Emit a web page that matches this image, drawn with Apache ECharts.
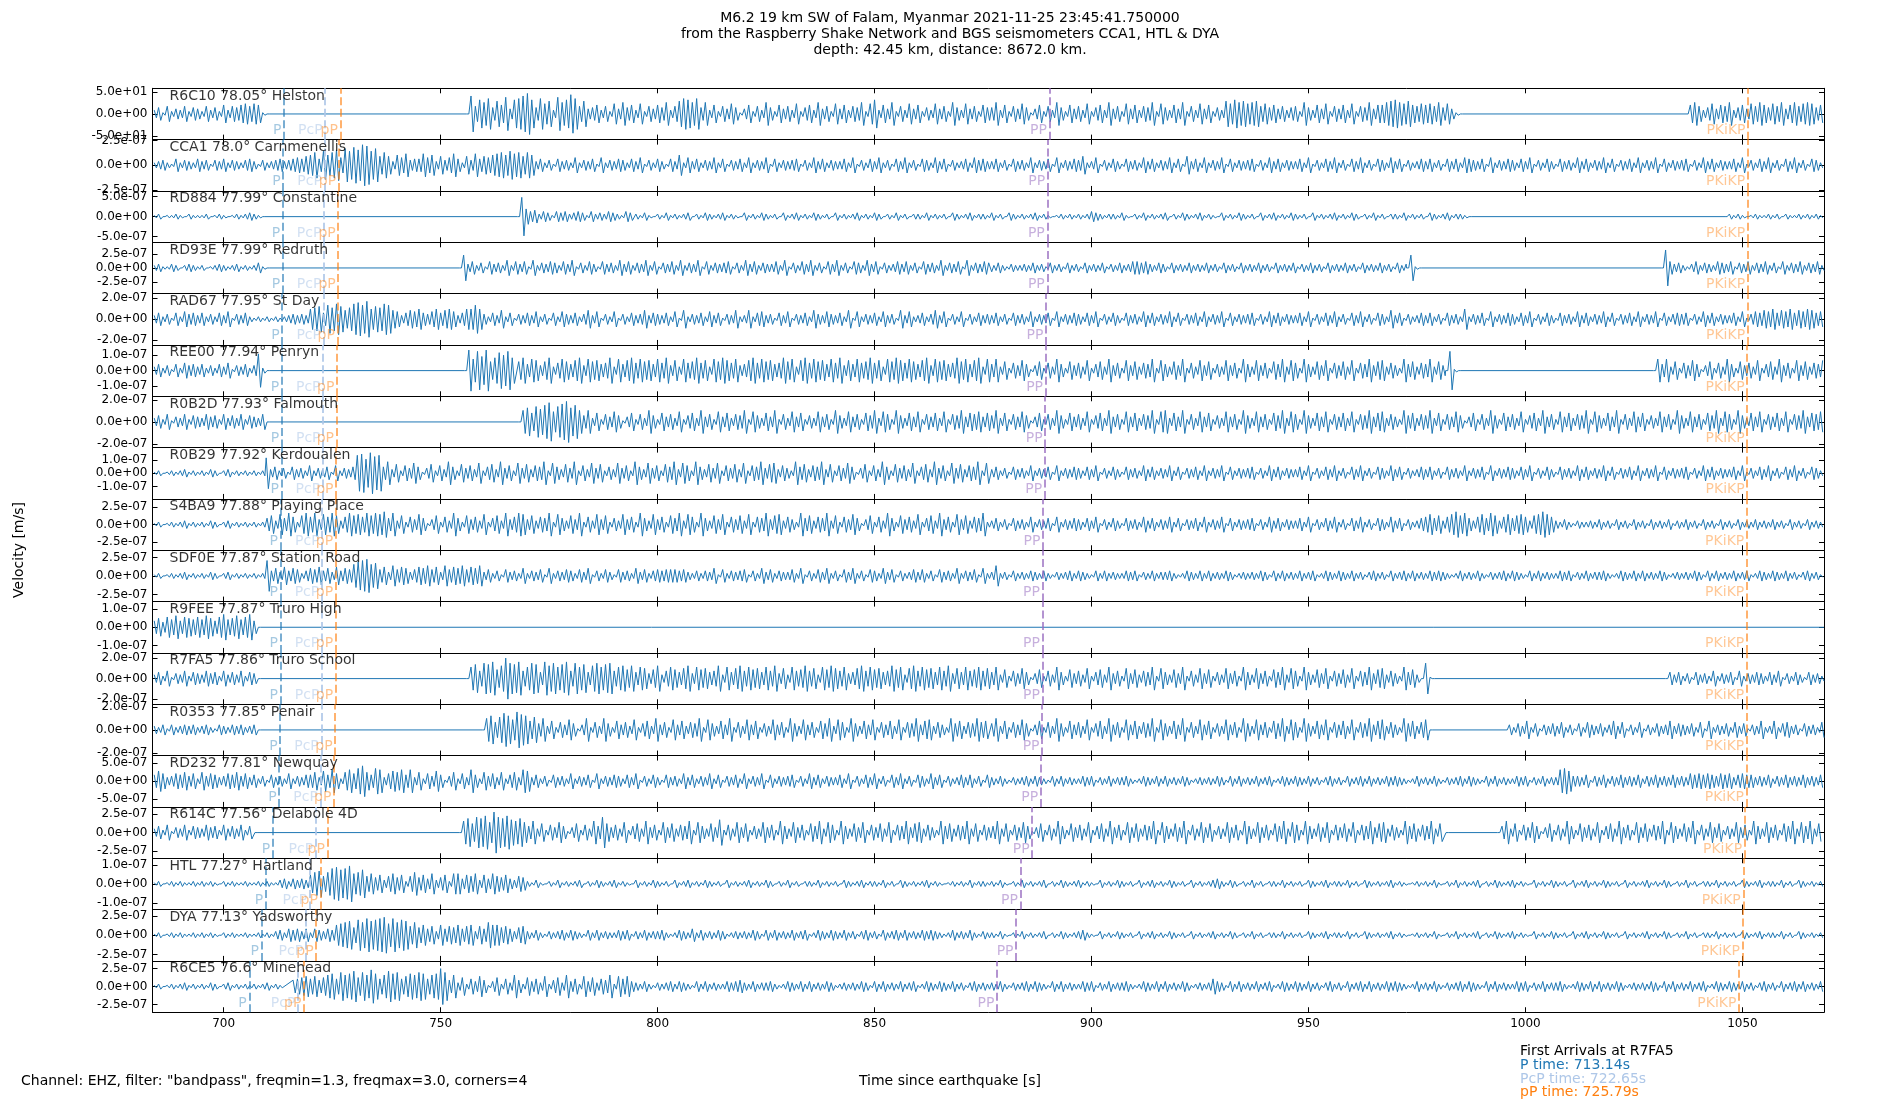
<!DOCTYPE html>
<html><head><meta charset="utf-8">
<script src="https://cdn.jsdelivr.net/npm/echarts@6/dist/echarts.min.js"></script>
<style>html,body{margin:0;padding:0;background:#fff}#chart{width:1900px;height:1100px}</style>
</head><body><div id="chart"></div>
<script>
// ---------------- DATA ----------------
const xMin = 683.6, xMax = 1068.8;
const xTicks = [700, 750, 800, 850, 900, 950, 1000, 1050];
const stations = ["R6C10 78.05° Helston", "CCA1 78.0° Carnmenellis", "RD884 77.99° Constantine", "RD93E 77.99° Redruth",
  "RAD67 77.95° St Day", "REE00 77.94° Penryn", "R0B2D 77.93° Falmouth", "R0B29 77.92° Kerdoualen",
  "S4BA9 77.88° Playing Place", "SDF0E 77.87° Station Road", "R9FEE 77.87° Truro High", "R7FA5 77.86° Truro School",
  "R0353 77.85° Penair", "RD232 77.81° Newquay", "R614C 77.56° Delabole 4D", "HTL 77.27° Hartland",
  "DYA 77.13° Yadsworthy", "R6CE5 76.6° Minehead"];
const yTick = [50, 2.5e-7, 5e-7, 2.5e-7, 2e-7, 1e-7, 2e-7, 1e-7, 2.5e-7, 2.5e-7, 1e-7, 2e-7, 2e-7, 5e-7, 2.5e-7, 1e-7, 2.5e-7, 2.5e-7];
const yMax = [58.8, 2.58e-7, 6.41e-7, 4.55e-7, 2.44e-7, 1.67e-7, 2.35e-7, 1.92e-7, 3.68e-7, 3.47e-7, 1.39e-7, 2.5e-7, 2.22e-7, 7.14e-7, 3.47e-7, 1.35e-7, 3.33e-7, 3.57e-7];
const tP     = [713.9, 713.7, 713.6, 713.6, 713.5, 713.4, 713.4, 713.3, 713.1, 713.1, 713.1, 713.1, 713.0, 712.8, 711.3, 709.7, 708.7, 705.9];
const tPcP   = [723.4, 723.2, 723.1, 723.1, 723.0, 722.9, 722.9, 722.8, 722.7, 722.6, 722.6, 722.65, 722.5, 722.3, 721.2, 719.8, 718.9, 717.1];
const tpP    = [726.9, 726.5, 726.4, 726.4, 726.2, 726.1, 726.0, 725.9, 725.8, 725.8, 725.8, 725.8, 725.7, 725.4, 723.9, 722.3, 721.3, 718.5];
const tPP    = [890.3, 889.9, 889.8, 889.8, 889.5, 889.4, 889.3, 889.2, 888.8, 888.7, 888.7, 888.7, 888.6, 888.3, 886.3, 883.6, 882.6, 878.2];
const tPKiKP = [1051.3, 1051.2, 1051.2, 1051.2, 1051.2, 1051.1, 1051.1, 1051.1, 1051.0, 1051.0, 1051.0, 1051.0, 1051.0, 1050.9, 1050.5, 1050.2, 1050.0, 1049.2];

// trace segments: [start time (s), peak amplitude for each following second, base-36 code, 20 = axis limit]
const trR6C10 = [[684, '3516243625'+'4263527365'+'786871'], [710, '0'],
  [756, '0e6b9c5a7d'+'4bcegb5c8a'+'3d9bfc6a4'], [785, '5736284957'+'3826475936'], [805, 'acb9c'],
  [810, '5937264851'+'4726395274'+'6382573946'+'2847365928'+'b374926384'+'7253846295'+'3846275'],
  [877, '5937264851'+'4726395274'+'6382573946'+'2847365928'+'5374926384'+'7253a8b9a8'+'9a68574635'+'6295374826'+'4738265947'+'79ab98a768'+'78695841'],
  [985, '0'], [1037, '0796358476'+'9357486975'+'8694796898'+'5768']];
const trCCA1 = [[684, '2342152432'+'5341435243'+'2453142345'+'3'], [715, '45657'], [720, '8a5b8ac6dbecgfbd7a'],
  [738, '7386945596'+'8374695274'+'95768'], [763, '9a8b9a7a8'],
  [772, '3524153426'+'2435162435'+'4253614253'+'1538263524'+'3625143526'+'2436152434'+'5142635243'+'3526142536'+'2415362415'+'4263514235'+'26453'],
  [877, '3524153426'+'2435162435'+'4723614253'+'1534263524'+'3625173526'+'2436152434'+'5142635243'+'3526142536'+'2415362415'+'4263514235'+'3524153526'+'5435162435'+'4253614253'+'1534263524'+'3625143526'+'2436152434'+'5142635243'+'3526142536'+'2415362415'+'4253']];
const trRD884 = [[684, '1201121021'+'1120121012'+'1'+'232'+'1'], [709, '0'],
  [767.7, '0f'+'6452431434'+'2343142324'+'32143'],
  [795, '2131021312'+'1230213212'+'3121031213'+'2120312312'+'1321203121'+'2312132021'+'3120221312'+'1203212312'+'2131203212'+'1231210121'+'2121243212'+'2131021312'+'1230213212'+'3121031213'+'2120312312'+'1321203121'+'2312132021'+'3120221312'+'1203212312'+'21'],
  [987, '0'], [1046, '0'+'2121012112'+'1202112121'+'212']];
const trRD93E = [[684, '2311320232'+'1201232123'+'121'+'24'+'1'], [710, '0'],
  [754.3, '0a'+'3524153426'+'2535162435'+'4253614253'+'1534263524'+'3625143526'+'2436152434'+'5142635243'+'3526142536'+'2415362415'+'4263514235'+'3524153426'+'2435162435'+'4'],
  [876.5, '3242132232'+'4231423142'+'3142324132'+'4235545324'+'3142324232'+'4231423142'+'3242314232'+'4132423142'+'3242314232'+'4231423'],
  [972.6, '0a1'], [975.6, '0'], [1031.3, '0e'+'5342135243'+'2543514352'+'4352415243'+'5243524']];
const trRAD67 = [[684, '3524152645'+'3524253614'+'352'], [707, '12121212'], [715, '34343'], [720, '89a5b9ca79'+'cdbe8a9cb7'],
  [740, '6357685468'+'5786358'], [757, '8b8'],
  [760, '4253725143'+'5362415264'+'3524736142'+'6142534735'+'4352617243'+'5263514372'+'3725634153'+'6143527436'+'4352716243'+'5263417362'+'3524736142'+'6142534'],
  [877, '3524153426'+'2435162435'+'4253614253'+'1534263524'+'3625143526'+'2436152434'+'5142635243'+'3526142536'+'2415362415'+'4273514235'+'3524153428'+'2435162435'+'4253614253'+'1534263524'+'3625143526'+'2436152454'+'5142635243'+'3526146576'+'8576857687'+'5678']];
const trREE00 = [[684, '3524152645'+'3524253614'+'3524'], [708, 'd2'], [710, '0'], [755.5, '0g9fbg7aecfa'],
  [768, '7a59847a36'+'9758a49785'+'6a3958a697'+'8596a48396'+'7a68397a86'+'9458a69785'+'6a7938a697'+'8596a48596'+'7a68397a86'+'9758a49785'+'6a7958a39'],
  [877, '5937264851'+'4726395274'+'6382573946'+'2847365928'+'5374926384'+'7253846295'+'3846275938'+'6295374826'+'4738265947'+'8364295736'+'59374'],
  [981.6, '0f1'], [984.6, '0'], [1029.5, '09'+'5937264851'+'4726395274'+'6382573946'+'28473658']];
const trR0B2D = [[684, '3526143625'+'4364526353'+'625436'], [710, '0'], [768, '0'+'9b7cadf8ce'+'gbd9'],
  [783, '5937264851'+'4726395274'+'6382573946'+'2847365928'+'5374926384'+'7253846295'+'3846275938'+'6295374826'+'4738265947'+'6847'],
  [877, '5937264851'+'4726395274'+'6382573946'+'2847365928'+'9374926384'+'7253846295'+'3846275938'+'6295374826'+'4738265947'+'8364295736'+'5937264851'+'4726395274'+'6382573946'+'2847365928'+'5374926384'+'7253846295'+'3846275938'+'6295374826'+'4738265947'+'6857']];
const trR0B29 = [[684, '1201212312'+'1213202312'+'121212'], [709.8, 'c'+'3524153426'+'2435162435'], [730.8, 'efbgde'],
  [736.8, '5937264851'+'4726395274'+'6382573946'+'2847365928'+'5374926384'+'7253846295'+'3846275938'+'6295374826'+'4738265947'+'8364295736'+'5937264851'+'4726395274'+'6382573946'+'2847365928'],
  [877, '3524153426'+'2435162435'+'4253614253'+'1534263524'+'3625143526'+'2436152434'+'5142635243'+'3526142536'+'2415362415'+'4263514235'+'3524153426'+'2435162435'+'4253614253'+'1534263524'+'3625143526'+'2436152434'+'5142635243'+'3526142536'+'2415362415'+'4253']];
const trS4BA9 = [[684, '1201212312'+'1213202312'+'121212'], [710, '5738596279'+'6948697369'+'7869798a'],
  [738, '5937264851'+'4726395274'+'6382573946'+'9847365928'+'5374926384'+'7253846295'+'3846275938'+'6295374826'+'4738265947'+'8364295736'+'5937264851'+'4726395274'+'6382573946'+'284736592'],
  [877, '3524153426'+'2435162435'+'4253614253'+'1534263524'+'3625143526'+'2436152434'+'5142635243'+'3526142536'+'2415362415'+'4263514235'],
  [977, '6857368a79'+'5368597368'+'5786378a86'],
  [1007, '3242132232'+'4231423142'+'3142324132'+'4231423142'+'3142324232'+'4231423142'+'3242']];
const trSDF0E = [[684, '1201212312'+'1213202312'+'121212'], [710, 'c'+'4637465246'+'574637465'], [730, '9bcd9a'],
  [736, '5738576357'+'6857385768'+'5768'],
  [760, '3524153426'+'2435162435'+'4253614253'+'1534263524'+'5455545324'+'2436152434'+'5142635243'+'3526142536'+'2415362415'+'4263514235'+'3524153426'+'2435162'],
  [877, '3823142324'+'3242132342'+'4321424232'+'2434132423'+'3421243242'+'4232431232'+'3243142423'+'2423412432'+'4324231342'+'3142342423'+'2434321242'+'3242132342'+'4321424232'+'2434132423'+'3421243242'+'4232431232'+'3243142423'+'2423412432'+'4324231342'+'3142']];
const trR9FEE = [[684, '5748695876'+'869758a679'+'68a5'], [708, '0'], [1068.8, '0']];
const trR7FA5 = [[684, '3526143625'+'4364526353'+'6254'], [708, '0'],
  [756, '0'+'9b6cbd7agc'+'bd69cb5dac'+'9bd6c9b5ac'+'9bc69a'],
  [793, '7a59847a36'+'9758a49785'+'6a3958a697'+'8596a48396'+'7a68397a86'+'9458a69785'+'6a7938a697'+'8596a48596'+'7968'],
  [877, '5937264851'+'4726395274'+'6382573946'+'2847365928'+'5374926384'+'7253846295'+'3846275938'+'6295374826'+'4738265947'+'8364295736'],
  [976, '0c1'], [978.5, '0'], [1032.3, '05'+'3524153426'+'2435162435'+'4253614253'+'153426']];
const trR0353 = [[684, '3241423434'+'2342143243'+'4234'], [708, '0'], [759.6, '0'+'9b6adb8ecb'+'7a'],
  [772.6, '5937264851'+'4926395274'+'6382573946'+'2847365928'+'5374926384'+'7253846295'+'3846275938'+'6295374826'+'4738265947'+'8364295736'+'5967'],
  [877, '5937264851'+'4726395274'+'6382573946'+'2847365928'+'5374926384'+'7253846295'+'3846275938'+'6295374826'+'4738265947'+'8364295736'+'8'],
  [978, '0'], [995.3, '0'+'4253725143'+'5362415264'+'3524736142'+'6142534735'+'4352617243'+'5263514372'+'3725634153'+'426']];
const trRD232 = [[684, '58634657'+'4627465346'+'5746'], [706, '3524153426'+'2435'], [720, '5738596279'+'6ac75a9368'+'79'],
  [742, '5937264851'+'4726395274'+'637257398'],
  [771, '3524153426'+'2435162435'+'4253614253'+'1534263524'+'3625143526'+'2436152434'+'5142635243'+'3526142536'+'2415362415'+'4263514235'+'352415'],
  [877, '3242132342'+'4321424232'+'2434132423'+'3421243242'+'4232431232'+'3243142423'+'2423412432'+'4324231342'+'3142342423'+'2434321242'+'3242132342'+'4321424232'+'2434132423'+'3'],
  [1008, '9a84'],
  [1012, '4351435243'+'5343524353'+'4353436565'+'6546563565'+'5343524353'+'4353435']];
const trR614C = [[684, '3526143625'+'4364526353'+'625'], [707.2, '0'], [754.3, '0'+'9b7cbd8gcb'+'da9b8'],
  [770.3, '5937264851'+'4726395c74'+'6382573946'+'2847365928'+'5374a26384'+'7253846295'+'3846275938'+'6295374826'+'4738265947'+'8364295736'+'5937264'],
  [877.3, '5937264851'+'4726395274'+'6382573946'+'2847365928'+'5374926384'+'7253846295'+'3846275938'+'6295374826'+'4738265947'+'8364295736'+'5937'],
  [981.7, '0'],
  [993.6, '0'+'5937264851'+'4726395274'+'6382573946'+'2847365928'+'5374926384'+'7253846295'+'3846275938'+'5937']];
const trHTL = [[684, '1201212112'+'1212102121'+'121121211'], [713, '3424343'], [720, '79a69cdbce'+'89b68'],
  [735, '5736857269'+'5748357288'+'4768374865'+'74365'],
  [770, '2131021312'+'1230213212'+'3121031213'+'2120312312'+'1321203121'+'2312132021'+'3120221312'+'1203212312'+'2131203212'+'1231210121'+'2131221'],
  [877, '2131021312'+'1230213212'+'3121031213'+'2120312312'+'1321203121'+'2342132021'+'3120221312'+'1203212312'+'2131203212'+'1231210121'+'2131021312'+'1230213212'+'3121031213'+'2120312312'+'1321203121'+'2312132021'+'3120221312'+'1203212312'+'2131203212'+'1231']];
const trDYA = [[684, '1201212112'+'1212102121'+'12112121'], [712, '3425453525'+'4354'], [726, '89ab6cadbc'+'de9dacb7a'],
  [745, '6857385768'+'578375a886'+'75367'],
  [770, '3242132342'+'4321424232'+'2434132423'+'3421243252'+'4232431232'+'3243142423'+'2423412432'+'4324231342'+'3142342423'+'2434321242'+'3242132'],
  [877, '2131021312'+'1230213212'+'3421031213'+'2120312312'+'1321203121'+'2312132021'+'3120221312'+'1203212312'+'2131203212'+'1231210121'+'2131021312'+'1230213212'+'3121031213'+'2120312312'+'1321203121'+'2312132021'+'3120221312'+'1203212312'+'2131203212'+'1231']];
const trR6CE5 = [[684, '1201212312'+'1213202312'+'121212'+'3121'], [716, '56786857'], [724, '9a6b9ac7b9'+'da69cab68a'+'9ba69aeb'],
  [752, '5937264851'+'4726395274'+'6382573946'+'2847365928'+'684'],
  [795, '3242132342'+'4321424232'+'2434532423'+'3421243242'+'4232431232'+'3243142423'+'2423412432'+'4324231342'+'32'],
  [877, '3242132342'+'4321424232'+'2434132423'+'3421243242'+'4232431232'+'3643142423'+'2423412432'+'4324231342'+'3142342423'+'2434321242'+'3242132342'+'4321424232'+'2434132423'+'3421243242'+'4232431232'+'3243142423'+'2423412432'+'4324231342'+'3142342423'+'2434']];
const traces = [trR6C10, trCCA1, trRD884, trRD93E, trRAD67, trREE00, trR0B2D, trR0B29, trS4BA9, trSDF0E,
  trR9FEE, trR7FA5, trR0353, trRD232, trR614C, trHTL, trDYA, trR6CE5];

// ---------------- CHART ----------------
const FONT = '"DejaVu Sans", sans-serif';
const phases = [
  {name: 'P', times: tP, line: 'rgba(31,119,180,0.6)', text: 'rgba(31,119,180,0.5)'},
  {name: 'PcP', times: tPcP, line: 'rgba(174,199,232,0.85)', text: 'rgba(174,199,232,0.7)'},
  {name: 'pP', times: tpP, line: 'rgba(255,127,14,0.6)', text: 'rgba(255,127,14,0.6)'},
  {name: 'PP', times: tPP, line: 'rgba(148,103,189,0.7)', text: 'rgba(148,103,189,0.65)'},
  {name: 'PKiKP', times: tPKiKP, line: 'rgba(255,127,14,0.6)', text: 'rgba(255,127,14,0.55)'}
];
function fmt(v) {
  const s = Number(v).toExponential(1);
  const parts = s.split('e');
  const sign = parts[1][0] === '-' ? '-' : '+';
  const d = parts[1].replace('+', '').replace('-', '').padStart(2, '0');
  return parts[0] + 'e' + sign + d;
}
function expand(segs, amp) {
  const pts = [];
  for (let s = 0; s < segs.length; s++) {
    const t0 = segs[s][0], codes = segs[s][1];
    const tNext = s + 1 < segs.length ? segs[s + 1][0] : xMax + 0.01;
    for (let k = 0; k < codes.length; k++) {
      const a = parseInt(codes[k], 36) / 20 * amp;
      const t = t0 + k;
      if (t < tNext) pts.push([t, a]);
      if (t + 0.5 < tNext) pts.push([t + 0.5, -a]);
    }
  }
  return pts;
}
const G_LEFT = 152.5, G_RIGHT = 76, G_TOP = 88.3, G_H = 51.33;
const grids = [], xAxes = [], yAxes = [], series = [];
const axisLine = {show: true, onZero: false, lineStyle: {color: '#000', width: 1}};
const tickStyle = {color: '#000', width: 1};
for (let i = 0; i < traces.length; i++) {
  grids.push({left: G_LEFT, right: G_RIGHT, top: G_TOP + i * G_H, height: G_H, containLabel: false});
  xAxes.push({type: 'value', gridIndex: i, min: xMin, max: xMax, position: 'bottom', axisLine: axisLine,
    splitLine: {show: false},
    axisTick: {show: true, inside: true, length: 5, customValues: xTicks, lineStyle: tickStyle},
    axisLabel: {show: i === traces.length - 1, customValues: xTicks, formatter: v => String(v), color: '#000', fontSize: 12, margin: 6, fontFamily: FONT}});
  xAxes.push({type: 'value', gridIndex: i, min: xMin, max: xMax, position: 'top', axisLine: axisLine,
    splitLine: {show: false},
    axisTick: {show: true, inside: true, length: 5, customValues: xTicks, lineStyle: tickStyle},
    axisLabel: {show: false}});
  const yt = [-yTick[i], 0, yTick[i]];
  yAxes.push({type: 'value', gridIndex: i, min: -yMax[i], max: yMax[i], position: 'left', axisLine: axisLine,
    splitLine: {show: false},
    axisTick: {show: true, inside: true, length: 5, customValues: yt, lineStyle: tickStyle},
    axisLabel: {show: true, customValues: yt, formatter: fmt, color: '#000', fontSize: 12, margin: 5, fontFamily: FONT}});
  yAxes.push({type: 'value', gridIndex: i, min: -yMax[i], max: yMax[i], position: 'right', axisLine: axisLine,
    splitLine: {show: false},
    axisTick: {show: true, inside: true, length: 5, customValues: yt, lineStyle: tickStyle},
    axisLabel: {show: false}});
  series.push({type: 'line', xAxisIndex: 2 * i, yAxisIndex: 2 * i, data: expand(traces[i], yMax[i]),
    symbol: 'none', showSymbol: false, silent: true, animation: false, clip: true, z: 2,
    lineStyle: {color: '#1f77b4', width: 1}, itemStyle: {color: '#1f77b4'}, emphasis: {disabled: true},
    markLine: {silent: true, symbol: ['none', 'none'], animation: false, label: {show: false},
      data: phases.map(ph => ({xAxis: ph.times[i], lineStyle: {color: ph.line, type: [8, 3.5], width: 2}}))}});
  const lab = phases.map(ph => ({value: [ph.times[i], -0.64 * yMax[i]],
    label: {show: true, position: 'left', distance: 2, formatter: ph.name, color: ph.text, fontSize: 14, fontFamily: FONT}}));
  lab.push({value: [xMin, yMax[i]], label: {show: true, position: 'right', distance: 0, offset: [16.5, 7.7],
    formatter: stations[i], color: '#000', fontSize: 14, fontFamily: FONT}});
  series.push({type: 'scatter', xAxisIndex: 2 * i, yAxisIndex: 2 * i, data: lab, symbolSize: 1, silent: true,
    clip: false, animation: false, z: 5, itemStyle: {color: 'rgba(0,0,0,0)'}, emphasis: {disabled: true}});
}
function t(text, left, top, color) {
  return {text: text, left: left, top: top, padding: 0,
    textStyle: {fontSize: 14, fontWeight: 'normal', color: color || '#000', fontFamily: FONT, lineHeight: 16}};
}
const option = {
  animation: false,
  backgroundColor: '#ffffff',
  textStyle: {fontFamily: FONT},
  title: [
    t('M6.2 19 km SW of Falam, Myanmar 2021-11-25 23:45:41.750000', 'center', 10),
    t('from the Raspberry Shake Network and BGS seismometers CCA1, HTL & DYA', 'center', 26),
    t('depth: 42.45 km, distance: 8672.0 km.', 'center', 42),
    t('Channel: EHZ, filter: "bandpass", freqmin=1.3, freqmax=3.0, corners=4', 21, 1073),
    t('Time since earthquake [s]', 'center', 1073),
    t('First Arrivals at R7FA5', 1520, 1043),
    t('P time: 713.14s', 1520, 1057, '#1f77b4'),
    t('PcP time: 722.65s', 1520, 1071, '#aec7e8'),
    t('pP time: 725.79s', 1520, 1084, '#ff7f0e')
  ],
  graphic: [{type: 'text', x: 19, y: 550, rotation: Math.PI / 2,
    style: {text: 'Velocity [m/s]', font: '14px "DejaVu Sans"', fill: '#000', textAlign: 'center', textVerticalAlign: 'middle', align: 'center', verticalAlign: 'middle'}}],
  grid: grids, xAxis: xAxes, yAxis: yAxes, series: series
};
const chart = echarts.init(document.getElementById('chart'), null, {renderer: 'canvas', width: 1900, height: 1100});
chart.setOption(option);
</script></body></html>
